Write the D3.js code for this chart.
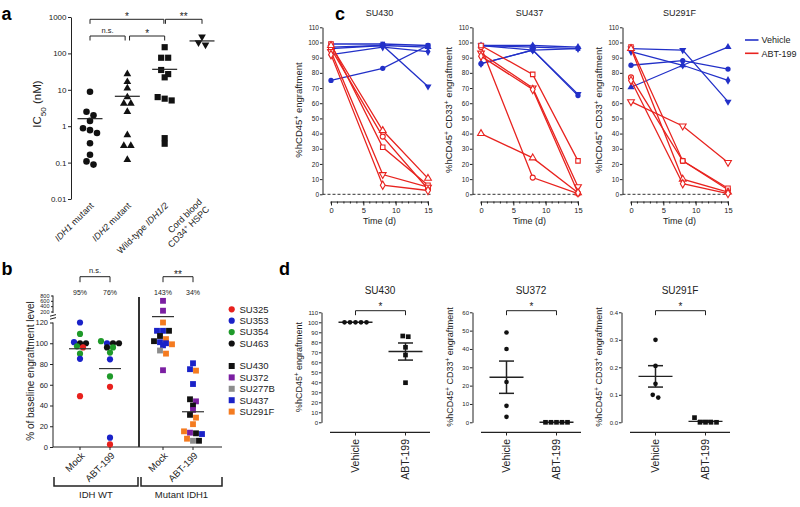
<!DOCTYPE html>
<html>
<head>
<meta charset="utf-8">
<script src="https://cdn.jsdelivr.net/npm/d3@7/dist/d3.min.js"></script>
<style>
html,body{margin:0;padding:0;background:#fff;}
svg{display:block;}
</style>
</head>
<body>
<script>
// ================= DATA =================
// Panel a : IC50 (nM)
const aCategories = ["IDH1 mutant", "IDH2 mutant", "Wild-type IDH1/2", "Cord blood CD34+ HSPC"];
const aIDH1Mutant = [8.8, 2.5, 2.0, 1.4, 0.88, 0.78, 0.65, 0.34, 0.165, 0.108, 0.088];
const aIDH2Mutant = [27, 16.5, 11, 6.3, 4.2, 4.2, 2.5, 0.57, 0.29, 0.29, 0.12];
const aWildType = [148, 76, 76, 35, 27, 22, 6.3, 5.7, 5.1, 0.47, 0.33];
const aCordBlood = [288, 200, 172];
const aTickValues = [0.01, 0.1, 1, 10, 100, 1000];
const aComparisons = [
  {from: 0, to: 2, label: "*", tier: 1},
  {from: 2, to: 3, label: "**", tier: 1},
  {from: 0, to: 1, label: "n.s.", tier: 0},
  {from: 1, to: 2, label: "*", tier: 0}
];
const aCategoryLabels = [
  [[{t: "IDH1", i: 1}, {t: " mutant"}]],
  [[{t: "IDH2", i: 1}, {t: " mutant"}]],
  [[{t: "Wild-type "}, {t: "IDH1/2", i: 1}]],
  [[{t: "Cord blood"}], [{t: "CD34"}, {t: "+", sup: 1}, {t: " HSPC"}]]
];

// Panel b : % of baseline engraftment level  [patient, value]
const bGroups = ["IDH WT", "Mutant IDH1"];
const bTreatments = ["Mock", "ABT-199"];
const bWTPatients = ["SU325", "SU353", "SU354", "SU463"];
const bMutPatients = ["SU430", "SU372", "SU277B", "SU437", "SU291F"];
const bWTMock = [["SU353",120],["SU354",109],["SU353",101],["SU463",100],["SU463",100],["SU354",97],["SU325",96],["SU354",90],["SU353",85],["SU325",49]];
const bWTABT = [["SU354",102],["SU353",100],["SU463",100],["SU463",100],["SU463",96],["SU354",96],["SU354",91],["SU353",84.5],["SU354",68],["SU325",58],["SU353",9],["SU325",2.5]];
const bMutMock = [["SU372",600],["SU372",230],["SU291F",120],["SU437",112],["SU437",112],["SU430",112],["SU430",107],["SU291F",104],["SU437",101],["SU430",102],["SU437",100],["SU437",98],["SU291F",99],["SU277B",93],["SU291F",90],["SU372",74]];
const bMutABT = [["SU437",80.7],["SU437",75],["SU291F",73.6],["SU437",60.7],["SU430",46],["SU372",44],["SU430",40],["SU372",35.7],["SU430",31],["SU291F",28.3],["SU291F",22],["SU291F",15.1],["SU430",13.2],["SU437",12.5],["SU372",13.8],["SU291F",8],["SU277B",6],["SU430",6]];
const bPercentLabels = ["95%", "76%", "143%", "34%"];
const bComparisonLabels = ["n.s.", "**"];
const bLowerTicks = [0, 20, 40, 60, 80, 100, 120];
const bUpperTicks = [200, 400, 600, 800];

// Panel c : engraftment over time, one row per mouse: values at cTimes
const cTimes = [0, 8, 15];
const cPatients = ["SU430", "SU437", "SU291F"];
const cSU430Vehicle = [[75,83,98],[99,99,98],[96,98,97],[97,98,71],[92,97,94]];
const cSU430ABT = [[96,38,3.5],[99,31,6],[98,42,10.5],[94,13,4.7],[92,6,2.5]];
const cSU437Vehicle = [[86,95,65],[98,97,96],[98,98,97],[98,95,66],[86,95,96]];
const cSU437ABT = [[97,11,0.5],[98,79,22],[40,24,1],[93,70,5],[91,69,1]];
const cSU291FVehicle = [[85,88,82.5],[70.5,85,97],[96,95,61],[94,85,75]];
const cSU291FABT = [[77,22,3],[97,22,4],[96,10,1.5],[61,45,21],[75,7,0.5]];
const cXTicks = [0, 5, 10, 15];
const cMinorTicks = [0,1,2,3,4,5,6,7,8,9,10,11,12,13,14,15];
const cYTicks = [0,10,20,30,40,50,60,70,80,90,100,110];
const cLegend = ["Vehicle", "ABT-199"];

// Panel d : engraftment per mouse
const dPatients = ["SU430", "SU372", "SU291F"];
const dTreatments = ["Vehicle", "ABT-199"];
const dSU430Vehicle = [100, 100, 100, 100, 100];
const dSU430ABT = [86.3, 85.6, 75, 67.3, 39.6];
const dSU372Vehicle = [49, 40, 22, 9, 3];
const dSU372ABT = [0, 0, 0, 0, 0];
const dSU291FVehicle = [0.30, 0.205, 0.14, 0.09, 0.10];
const dSU291FABT = [0.017, 0, 0, 0, 0];
const dSU430Ticks = [0,10,20,30,40,50,60,70,80,90,100,110];
const dSU372Ticks = [0,10,20,30,40,50,60];
const dSU291FTicks = [0, 0.1, 0.2, 0.3, 0.4];

// ================= DRAWING =================
const FONT = '"Liberation Sans", Arial, Helvetica, sans-serif';
const INK = "#222";
const BLUE = "#2230c8";
const RED = "#e8231f";

const svg = d3.select("body").append("svg").attr("width", 800).attr("height", 507)
  .style("font-family", FONT);
svg.append("rect").attr("width", 800).attr("height", 507).attr("fill", "#fff");

function rich(t, parts) {
  parts.forEach(p => {
    const s = t.append("tspan").text(p.t);
    if (p.i) s.attr("font-style", "italic");
    if (p.sup) s.attr("baseline-shift", "super").attr("font-size", "70%");
    if (p.sub) s.attr("baseline-shift", "sub").attr("font-size", "70%");
  });
}
function txt(g, x, y, s, o = {}) {
  const t = g.append("text").attr("x", x).attr("y", y)
    .attr("font-size", o.size || 9).attr("fill", o.fill || INK)
    .attr("text-anchor", o.anchor || "middle");
  if (o.weight) t.attr("font-weight", o.weight);
  if (o.transform) t.attr("transform", o.transform);
  if (o.dy) t.attr("dy", o.dy);
  if (typeof s === "string") t.text(s); else rich(t, s);
  return t;
}
const SYM = {circle: d3.symbolCircle, square: d3.symbolSquare, triangle: d3.symbolTriangle,
  triangleDown: d3.symbolTriangle, diamond: d3.symbolDiamond};
function mark(g, shape, x, y, size, fill, stroke, sw) {
  return g.append("path").attr("d", d3.symbol(SYM[shape], size)())
    .attr("transform", `translate(${x},${y})` + (shape === "triangleDown" ? " rotate(180)" : ""))
    .attr("fill", fill).attr("stroke", stroke || "none").attr("stroke-width", sw || 0);
}
function styleAxis(sel, fs) {
  sel.attr("font-family", FONT).attr("font-size", fs);
  sel.select(".domain").attr("stroke", INK).attr("stroke-width", 1);
  sel.selectAll(".tick line").attr("stroke", INK).attr("stroke-width", 1);
  sel.selectAll(".tick text").attr("fill", INK);
}
// scatter spreading (GraphPad-like): points close in y are spread symmetrically in x
function spread(values, yScale, cx, gap, thresh) {
  const pts = values.map((v, i) => ({v, i, y: yScale(v), x: cx}));
  const sorted = pts.slice().sort((a, b) => a.y - b.y);
  let cl = [];
  const flush = () => { cl.forEach((p, j) => p.x = cx + (j - (cl.length - 1) / 2) * gap); cl = []; };
  sorted.forEach(p => { if (cl.length && p.y - cl[0].y > thresh) flush(); cl.push(p); });
  flush();
  return pts;
}
function hline(g, x1, x2, y, w, c) {
  g.append("line").attr("x1", x1).attr("x2", x2).attr("y1", y).attr("y2", y)
    .attr("stroke", c || INK).attr("stroke-width", w || 1);
}
function bracket(g, x1, x2, y, h) {
  g.append("path").attr("d", `M${x1},${y + h}V${y}H${x2}V${y + h}`)
    .attr("fill", "none").attr("stroke", INK).attr("stroke-width", 1);
}

// panel letters
txt(svg, 1.5, 19.5, "a", {size: 18, weight: "bold", anchor: "start", fill: "#000"});
txt(svg, 1.5, 275, "b", {size: 18, weight: "bold", anchor: "start", fill: "#000"});
txt(svg, 335, 20, "c", {size: 18, weight: "bold", anchor: "start", fill: "#000"});
txt(svg, 279, 275, "d", {size: 18, weight: "bold", anchor: "start", fill: "#000"});

// ---------- Panel a ----------
(function () {
  const g = svg.append("g");
  const y = d3.scaleLog().domain([0.01, 1000]).range([199, 17]);
  const x = d3.scalePoint().domain(aCategories).range([90, 202]);
  const ax = g.append("g").attr("transform", "translate(71,0)")
    .call(d3.axisLeft(y).tickValues(aTickValues).tickFormat(d => String(d)).tickSize(3).tickSizeOuter(0).tickPadding(1.5));
  styleAxis(ax, 8);
  txt(g, 0, 0, [{t: "IC"}, {t: "50", sub: 1}, {t: " (nM)"}], {size: 11.5, transform: "translate(41,104) rotate(-90)"});

  const series = [aIDH1Mutant, aIDH2Mutant, aWildType, aCordBlood];
  const shapes = ["circle", "triangle", "square", "triangleDown"];
  const sizes = [34, 26, 38, 26];
  series.forEach((vals, k) => {
    const cx = x(aCategories[k]);
    spread(vals, y, cx, 7, 5).forEach(p => mark(g, shapes[k], p.x, p.y, sizes[k], "#111"));
    hline(g, cx - 12.5, cx + 12.5, y(d3.mean(vals)), 1.2);
  });

  const tierY = [36, 19.3];
  aComparisons.forEach(c => {
    const shrink = c.tier ? 0.8 : 2.2;
    const shared = idx => aComparisons.some(o => o !== c && o.tier === c.tier && (o.from === idx || o.to === idx));
    const x1 = x(aCategories[c.from]) + (shared(c.from) ? shrink : 0);
    const x2 = x(aCategories[c.to]) - (shared(c.to) ? shrink : 0);
    const yy = tierY[c.tier];
    bracket(g, x1, x2, yy, 4.5);
    if (c.label === "n.s.") txt(g, (x1 + x2) / 2, yy - 3.5, c.label, {size: 7.5});
    else txt(g, (x1 + x2) / 2, yy + 0.8, c.label, {size: 10});
  });

  aCategoryLabels.forEach((lines, k) => {
    const t = g.append("text").attr("transform", `translate(${x(aCategories[k]) + 2},204) rotate(-45)`)
      .attr("text-anchor", "end").attr("font-size", 9).attr("fill", INK);
    lines.forEach((parts, j) => {
      const ln = t.append("tspan").attr("x", 0)
        .attr("dy", j === 0 ? `${0.35 - (lines.length - 1) / 2 * 1.15}em` : "1.15em");
      rich(ln, parts);
    });
  });
})();

// ---------- Panel b ----------
(function () {
  const g = svg.append("g");
  const axX = 53, sepX = 139, axEnd = 222, baseY = 447;
  const y = d3.scaleLinear().domain([0, 120, 125, 200, 800]).range([447, 322.5, 318, 311.5, 295.5]);
  const xWT = d3.scalePoint().domain(bTreatments).range([80, 110]);
  const xMut = d3.scalePoint().domain(bTreatments).range([163, 193]);

  const a1 = g.append("g").attr("transform", `translate(${axX},0)`)
    .call(d3.axisLeft(y).tickValues(bLowerTicks).tickSize(3).tickSizeOuter(0).tickPadding(2));
  styleAxis(a1, 7.5); a1.select(".domain").remove();
  const a2 = g.append("g").attr("transform", `translate(${axX},0)`)
    .call(d3.axisLeft(y).tickValues(bUpperTicks).tickSize(2).tickSizeOuter(0).tickPadding(1.5));
  styleAxis(a2, 5.5); a2.select(".domain").remove();
  g.append("path").attr("d", `M${axX},${y(0)}V${y(120)}M${axX},${y(200) + 1.5}V${y(800)}`)
    .attr("stroke", INK).attr("fill", "none");
  g.append("path").attr("d", `M${axX - 3},${316.2}L${axX + 3},${314.6}M${axX - 3},${319.2}L${axX + 3},${317.6}`)
    .attr("stroke", INK).attr("fill", "none");
  txt(g, 0, 0, "% of baseline engraftment level", {size: 10, transform: "translate(33.5,371) rotate(-90)"});

  hline(g, axX, axEnd, baseY, 1.2);
  g.append("line").attr("x1", sepX).attr("x2", sepX).attr("y1", 297).attr("y2", baseY)
    .attr("stroke", "#333").attr("stroke-width", 2);

  const color = d3.scaleOrdinal().domain([...bWTPatients, ...bMutPatients])
    .range(["#e8211d", "#1a22c8", "#1f9a2a", "#111111", "#111111", "#7b1fa2", "#8c8c8c", "#1a22c8", "#f47b20"]);
  const sets = [
    {data: bWTMock, cx: xWT(bTreatments[0]), shape: "circle"},
    {data: bWTABT, cx: xWT(bTreatments[1]), shape: "circle"},
    {data: bMutMock, cx: xMut(bTreatments[0]), shape: "square"},
    {data: bMutABT, cx: xMut(bTreatments[1]), shape: "square"}
  ];
  sets.forEach((s, k) => {
    const vals = s.data.map(d => d[1]);
    spread(vals, y, s.cx, 6, 4).forEach(p =>
      mark(g, s.shape, p.x, p.y, s.shape === "circle" ? 30 : 34, color(s.data[p.i][0])));
    hline(g, s.cx - 11, s.cx + 11, y(d3.mean(vals)), 1.2, "#333");
    txt(g, s.cx, 295, bPercentLabels[k], {size: 7});
    g.append("line").attr("x1", s.cx).attr("x2", s.cx).attr("y1", baseY).attr("y2", baseY + 3).attr("stroke", INK);
    txt(g, 0, 0, bTreatments[k % 2], {size: 9.5, anchor: "end", dy: "0.35em",
      transform: `translate(${s.cx + 3},454) rotate(-45)`});
  });
  [[xWT, 0], [xMut, 1]].forEach(([sc, k]) => {
    const x1 = sc(bTreatments[0]), x2 = sc(bTreatments[1]);
    bracket(g, x1, x2, 276.7, 5.5);
    if (bComparisonLabels[k] === "n.s.") txt(g, (x1 + x2) / 2, 273, bComparisonLabels[k], {size: 7.5});
    else txt(g, (x1 + x2) / 2, 278, bComparisonLabels[k], {size: 10});
  });
  // group brackets
  const gb = [[axX + 1, sepX - 1], [sepX + 2, axEnd]];
  gb.forEach(([x1, x2], k) => {
    g.append("path").attr("d", `M${x1},477V486H${x2}V477`).attr("fill", "none").attr("stroke", INK).attr("stroke-width", 1.5);
    txt(g, (x1 + x2) / 2, 497.5, bGroups[k], {size: 9.5});
  });
  // legend
  const rows = [...bWTPatients.map((p, i) => ({p, shape: "circle", y: 309.3 + i * 11.4})),
    ...bMutPatients.map((p, i) => ({p, shape: "square", y: 366 + i * 11.4}))];
  rows.forEach(r => {
    mark(g, r.shape, 231.7, r.y, r.shape === "circle" ? 30 : 36, color(r.p));
    txt(g, 239.5, r.y + 3.3, r.p, {size: 9.5, anchor: "start"});
  });
})();

// ---------- Panel c ----------
(function () {
  const g = svg.append("g");
  const x0s = [331, 481, 631];
  const defShapes = ["circle", "square", "triangle", "triangleDown", "diamond"];
  const sets = [
    {veh: cSU430Vehicle, abt: cSU430ABT, vehShapes: defShapes, cd33: false},
    {veh: cSU437Vehicle, abt: cSU437ABT, vehShapes: defShapes, cd33: true},
    {veh: cSU291FVehicle, abt: cSU291FABT, vehShapes: ["circle", "triangle", "triangleDown", "diamond"], cd33: true}
  ];
  sets.forEach((s, k) => {
    const x0 = x0s[k];
    const x = d3.scaleLinear().domain([0, 15]).range([x0, x0 + 97]);
    const y = d3.scaleLinear().domain([0, 110]).range([194.3, 27.3]);
    const axX = x0 - 8.5;
    const ay = g.append("g").attr("transform", `translate(${axX},0)`)
      .call(d3.axisLeft(y).tickValues(cYTicks).tickSize(2.5).tickSizeOuter(0).tickPadding(1));
    styleAxis(ay, 6.5);
    const axb = g.append("g").attr("transform", "translate(0,201.5)")
      .call(d3.axisBottom(x).tickValues(cXTicks).tickSize(4).tickSizeOuter(0).tickPadding(2.5));
    styleAxis(axb, 7.5);
    axb.selectAll(".minor").data(cMinorTicks).enter().append("line").attr("class", "minor")
      .attr("x1", d => x(d)).attr("x2", d => x(d)).attr("y1", 0).attr("y2", 2).attr("stroke", INK);
    g.append("line").attr("x1", axX).attr("x2", x(15) + 3).attr("y1", y(0)).attr("y2", y(0))
      .attr("stroke", "#333").attr("stroke-dasharray", "3,2");
    txt(g, x0 + 48.5, 16, cPatients[k], {size: 9});
    txt(g, x0 + 48.5, 224, "Time (d)", {size: 9});
    const lab = s.cd33
      ? [{t: "%hCD45"}, {t: "+", sup: 1}, {t: " CD33"}, {t: "+", sup: 1}, {t: " engraftment"}]
      : [{t: "%hCD45"}, {t: "+", sup: 1}, {t: " engraftment"}];
    txt(g, 0, 0, lab, {size: 9.5, transform: `translate(${axX - 20.5},110) rotate(-90)`});

    const line = d3.line().x((d, i) => x(cTimes[i])).y(d => y(d));
    s.veh.forEach((vals, j) => {
      g.append("path").attr("d", line(vals)).attr("fill", "none").attr("stroke", BLUE).attr("stroke-width", 1.3);
      vals.forEach((v, i) => mark(g, s.vehShapes[j], x(cTimes[i]), y(v), 22, BLUE));
    });
    s.abt.forEach((vals, j) => {
      g.append("path").attr("d", line(vals)).attr("fill", "none").attr("stroke", RED).attr("stroke-width", 1.3);
      vals.forEach((v, i) => mark(g, defShapes[j], x(cTimes[i]), y(v), 20, "#fff", RED, 1.1));
    });
  });
  // legend
  [[BLUE, 40], [RED, 53.3]].forEach(([c, yy], k) => {
    hline(g, 745, 758.5, yy, 1.6, c);
    txt(g, 761.5, yy + 3.3, cLegend[k], {size: 9, anchor: "start"});
  });
})();

// ---------- Panel d ----------
(function () {
  const g = svg.append("g");
  const x0s = [330, 481, 630];
  const sets = [
    {veh: dSU430Vehicle, abt: dSU430ABT, ticks: dSU430Ticks, fmt: d => String(d), cd33: false},
    {veh: dSU372Vehicle, abt: dSU372ABT, ticks: dSU372Ticks, fmt: d => String(d), cd33: true},
    {veh: dSU291FVehicle, abt: dSU291FABT, ticks: dSU291FTicks, fmt: d3.format(".1f"), cd33: true}
  ];
  sets.forEach((s, k) => {
    const x0 = x0s[k];
    const x = d3.scalePoint().domain(dTreatments).range([x0 + 25.5, x0 + 75.5]);
    const y = d3.scaleLinear().domain([s.ticks[0], s.ticks[s.ticks.length - 1]]).range([422.3, 312.3]);
    const axX = x0 - 8.5;
    const ay = g.append("g").attr("transform", `translate(${axX},0)`)
      .call(d3.axisLeft(y).tickValues(s.ticks).tickFormat(s.fmt).tickSize(2.5).tickSizeOuter(0).tickPadding(1));
    styleAxis(ay, 6);
    hline(g, x0, x0 + 100, 432.3, 1.2);
    dTreatments.forEach(t => {
      g.append("line").attr("x1", x(t)).attr("x2", x(t)).attr("y1", 432.3).attr("y2", 435.5).attr("stroke", INK);
      txt(g, 0, 0, t, {size: 10.5, anchor: "end", dy: "0.35em", transform: `translate(${x(t)},439) rotate(-90)`});
    });
    txt(g, x0 + 50, 294, dPatients[k], {size: 10});
    bracket(g, x(dTreatments[0]), x(dTreatments[1]), 310.7, 4.5);
    txt(g, (x(dTreatments[0]) + x(dTreatments[1])) / 2, 309.5, "*", {size: 10});
    const lab = s.cd33
      ? [{t: "%hCD45"}, {t: "+", sup: 1}, {t: " CD33"}, {t: "+", sup: 1}, {t: " engraftment"}]
      : [{t: "%hCD45"}, {t: "+", sup: 1}, {t: " engraftment"}];
    txt(g, 0, 0, lab, {size: 9, transform: `translate(${axX - 19.5},367) rotate(-90)`});

    [[s.veh, dTreatments[0], "circle", 17], [s.abt, dTreatments[1], "square", 22]].forEach(([vals, t, shape, size]) => {
      const cx = x(t);
      const m = d3.mean(vals);
      const sem = d3.deviation(vals) / Math.sqrt(vals.length);
      hline(g, cx - 17, cx + 17, y(m), 1.4);
      if (sem > 0) {
        g.append("line").attr("x1", cx).attr("x2", cx).attr("y1", y(m - sem)).attr("y2", y(m + sem))
          .attr("stroke", INK).attr("stroke-width", 1.5);
        hline(g, cx - 7.5, cx + 7.5, y(m + sem), 1.5);
        hline(g, cx - 7.5, cx + 7.5, y(m - sem), 1.5);
      }
      spread(vals, y, cx, 5.5, 5).forEach(p => mark(g, shape, p.x, p.y, size, "#111"));
    });
  });
})();
</script>
</body>
</html>
